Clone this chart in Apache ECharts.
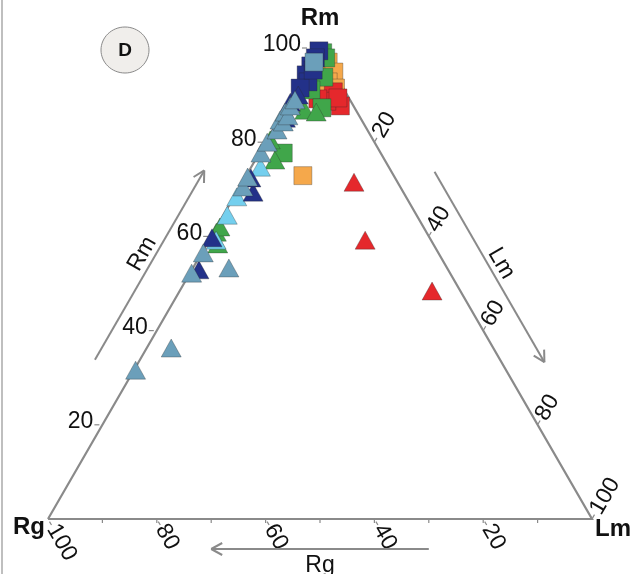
<!DOCTYPE html>
<html>
<head>
<meta charset="utf-8">
<script src="https://cdn.jsdelivr.net/npm/echarts/dist/echarts.min.js"></script>
<style>
  html, body { margin: 0; padding: 0; background: #ffffff; }
  #chart { width: 637px; height: 574px; }
</style>
</head>
<body>
<div id="chart"></div>
<script>
// Each sample is a composition [Rm, Rg, Lm] in percent.
const steelTriangles = [
  [31.6, 68.1, 0.3], [36.3, 59.2, 4.5], [53.3, 40.1, 6.6], [52.2, 47.5, 0.3],
  [56.5, 43.2, 0.3], [70.5, 28.9, 0.6], [72.6, 27.0, 0.4], [77.7, 22.0, 0.3],
  [80.0, 19.7, 0.3], [82.6, 16.6, 0.8], [84.7, 15.0, 0.3], [84.3, 14.6, 1.1],
  [86.4, 13.2, 0.4], [85.6, 13.1, 1.3], [87.7, 11.6, 0.7], [89.0, 10.1, 0.9]
];
const steelSquares = [[97.0, 2.6, 0.4]];
const navyTriangles = [
  [52.9, 45.8, 1.3], [59.7, 40.0, 0.3], [69.4, 27.6, 3.0], [72.4, 26.5, 1.1],
  [85.1, 13.8, 1.1], [88.5, 11.2, 0.3], [90.0, 9.0, 1.0]
];
const navySquares = [
  [99.4, 0.5, 0.1], [97.9, 1.9, 0.2], [96.2, 3.6, 0.2], [94.3, 5.4, 0.3],
  [92.8, 5.8, 1.4], [91.5, 7.9, 0.6], [95.3, 3.6, 1.1]
];
const greenTriangles = [
  [58.4, 39.6, 2.0], [60.9, 38.6, 0.5], [62.0, 37.4, 0.6], [76.2, 20.2, 3.6],
  [80.5, 18.9, 0.6], [86.8, 9.4, 3.8], [86.4, 7.5, 6.1]
];
const greenSquares = [
  [99.0, 0.0, 1.0], [97.9, 0.0, 2.1], [93.8, 2.4, 3.8], [91.1, 6.1, 2.8],
  [87.3, 6.0, 6.7], [77.7, 17.9, 4.4]
];
const cyanTriangles = [
  [59.2, 39.5, 1.3], [64.5, 34.8, 0.7], [68.4, 31.1, 0.5], [74.7, 23.6, 1.7]
];
const orangeSquares = [
  [97.0, 0.0, 3.0], [94.9, 0.0, 5.1], [92.8, 2.1, 5.1], [90.7, 3.7, 5.6],
  [91.5, 1.4, 7.1], [72.9, 16.7, 10.4]
];
const redSquares = [
  [90.7, 2.2, 7.1], [87.7, 2.4, 9.9], [88.7, 4.4, 6.9], [89.2, 5.8, 5.0],
  [89.4, 2.0, 8.6]
];
const redTriangles = [
  [71.5, 8.0, 20.5], [59.2, 12.1, 28.7], [48.4, 5.2, 46.4]
];

// Axis tick values along each side of the triangle
const rmTickLabels = [20, 40, 60, 80, 100];
const rgTickLabels = [100, 80, 60, 40, 20];
const lmTickLabels = [20, 40, 60, 80, 100];
const rgMinorTicks = [10, 20, 30, 40, 50, 60, 70, 80, 90];

const H = Math.sqrt(3) / 2 * 100;
// Ternary [Rm, Rg, Lm] -> cartesian [x, y] in an equilateral triangle of side 100
function toXY(p) {
  const s = p[0] + p[1] + p[2];
  const rm = p[0] / s * 100, lm = p[2] / s * 100;
  return [lm + rm / 2, rm / 100 * H];
}

const FONT = '"Liberation Sans", Arial, sans-serif';
const GREY = '#8a8a8a';
const TXT = '#111111';

function frameRenderer(params, api) {
  if (params.dataIndex !== 0) return null;
  const P = (rm, rg, lm) => api.coord(toXY([rm, rg, lm]));
  const A = P(0, 100, 0);   // Rg corner
  const B = P(0, 0, 100);   // Lm corner
  const C = P(100, 0, 0);   // Rm corner
  const children = [];
  const line = (x1, y1, x2, y2, w) => children.push({
    type: 'line', shape: { x1, y1, x2, y2 },
    style: { stroke: GREY, lineWidth: w || 2 }
  });
  const text = (str, x, y, opt) => children.push({
    type: 'text', x, y, rotation: opt.rotation || 0,
    style: {
      text: str, x: 0, y: 0, fill: TXT,
      font: (opt.weight || 'normal') + ' ' + (opt.size || 23) + 'px ' + FONT,
      align: opt.align || 'left', verticalAlign: 'middle'
    }
  });

  // triangle outline
  children.push({
    type: 'polyline', shape: { points: [A, B, C, A] },
    style: { stroke: GREY, lineWidth: 2.2, fill: null }
  });

  // bottom side: Rg
  rgMinorTicks.forEach(v => {
    const p = P(0, v, 100 - v);
    line(p[0], p[1], p[0], p[1] + 4, 1.2);
  });
  const dDown = [Math.cos(Math.PI / 3), Math.sin(Math.PI / 3)];
  rgTickLabels.forEach(v => {
    const p = P(0, v, 100 - v);
    line(p[0] + dDown[0] * 3, p[1] + dDown[1] * 3, p[0] + dDown[0] * 7, p[1] + dDown[1] * 7, 1.2);
    text(String(v), p[0] + dDown[0] * 8, p[1] + dDown[1] * 8, { rotation: -Math.PI / 3 });
  });

  // left side: Rm
  rmTickLabels.forEach(v => {
    const p = P(v, 100 - v, 0);
    const extra = v === 100 ? 10 : 0;
    line(p[0] - 8 - extra, p[1], p[0] - 3 - extra, p[1], 1.2);
    text(String(v), p[0] - 9 - extra, p[1] - 3, { align: 'right' });
  });

  // right side: Lm
  const dUp = [Math.cos(Math.PI / 3), -Math.sin(Math.PI / 3)];
  lmTickLabels.forEach(v => {
    const p = P(100 - v, 0, v);
    line(p[0] + dUp[0] * 1, p[1] + dUp[1] * 1, p[0] + dUp[0] * 5, p[1] + dUp[1] * 5, 1.2);
    text(String(v), p[0] + dUp[0] * 7, p[1] + dUp[1] * 7, { rotation: Math.PI / 3 });
  });

  // direction arrows with axis names
  const arrow = (x1, y1, x2, y2) => {
    line(x1, y1, x2, y2, 2);
    const len = Math.hypot(x2 - x1, y2 - y1);
    const ux = (x2 - x1) / len, uy = (y2 - y1) / len;
    const h = 11, w = 6;
    line(x2, y2, x2 - ux * h - uy * w, y2 - uy * h + ux * w, 2);
    line(x2, y2, x2 - ux * h + uy * w, y2 - uy * h - ux * w, 2);
  };
  // Rg arrow below the base, pointing toward the Rg corner
  const b1 = P(0, 30, 70), b2 = P(0, 70, 30), bm = P(0, 50, 50);
  arrow(b1[0], A[1] + 30, b2[0], A[1] + 30);
  text('Rg', bm[0], A[1] + 47, { align: 'center', size: 23 });

  // Rm arrow parallel to the left side, pointing up
  const l1 = P(33.8, 66.2, 0), l2 = P(74, 26, 0), lm = P(55, 45, 0);
  arrow(l1[0] - 45, l1[1], l2[0] - 45, l2[1]);
  text('Rm', lm[0] - 45 - 10.5, lm[1] - 6, { align: 'center', size: 23, rotation: Math.PI / 3 });

  // Lm arrow parallel to the right side, pointing down
  const r1 = P(73.7, 0, 26.3), r2 = P(33.3, 0, 66.7), rmid = P(53, 0, 47);
  arrow(r1[0] + 43, r1[1], r2[0] + 43, r2[1]);
  text('Lm', rmid[0] + 43 + 10.5, rmid[1] - 6, { align: 'center', size: 23, rotation: -Math.PI / 3 });

  // corner names
  text('Rm', C[0], C[1] - 30, { align: 'center', size: 24, weight: 'bold' });
  text('Rg', A[0] - 3, A[1] + 8, { align: 'right', size: 24, weight: 'bold' });
  text('Lm', B[0] + 3, B[1] + 10, { align: 'left', size: 24, weight: 'bold' });

  return { type: 'group', children };
}

const markerBorder = { borderColor: 'rgba(40,40,40,0.45)', borderWidth: 0.7 };
function scatter(name, data, symbol, color) {
  return {
    name, type: 'scatter', data: data.map(toXY),
    symbol, symbolSize: symbol === 'triangle' ? [20, 18] : 18,
    itemStyle: Object.assign({ color, opacity: 1 }, markerBorder),
    emphasis: { disabled: true }, silent: true, animation: false
  };
}

const chart = echarts.init(document.getElementById('chart'), null, { renderer: 'canvas' });
chart.setOption({
  backgroundColor: '#ffffff',
  animation: false,
  grid: { left: 48, right: 45, top: 48, bottom: 55 },
  xAxis: { type: 'value', min: 0, max: 100, show: false },
  yAxis: { type: 'value', min: 0, max: H, show: false },
  graphic: [
    { type: 'line', shape: { x1: 2, y1: 0, x2: 2, y2: 574 }, style: { stroke: '#aaaaaa', lineWidth: 1.5 } },
    {
      type: 'ellipse', shape: { cx: 125, cy: 50, rx: 24, ry: 23 },
      style: { fill: '#f0eeeb', stroke: '#8a8a8a', lineWidth: 1 }
    },
    {
      type: 'text', x: 125, y: 51,
      style: { text: 'D', fill: '#111', font: 'bold 19px ' + FONT, align: 'center', verticalAlign: 'middle' }
    }
  ],
  series: [
    {
      type: 'custom', data: [[0, 0]], renderItem: frameRenderer,
      silent: true, animation: false, clip: false, z: 1
    },
    scatter('orange', orangeSquares, 'rect', '#f5a84b'),
    scatter('red-sq', redSquares, 'rect', '#e5282c'),
    scatter('red-tri', redTriangles, 'triangle', '#e5282c'),
    scatter('green-sq', greenSquares, 'rect', '#40a64a'),
    scatter('green-tri', greenTriangles, 'triangle', '#40a64a'),
    scatter('cyan-tri', cyanTriangles, 'triangle', '#74cfee'),
    scatter('navy-sq', navySquares, 'rect', '#233189'),
    scatter('navy-tri', navyTriangles, 'triangle', '#233189'),
    scatter('steel-sq', steelSquares, 'rect', '#6b9fba'),
    scatter('steel-tri', steelTriangles, 'triangle', '#6b9fba')
  ]
});
</script>
</body>
</html>
